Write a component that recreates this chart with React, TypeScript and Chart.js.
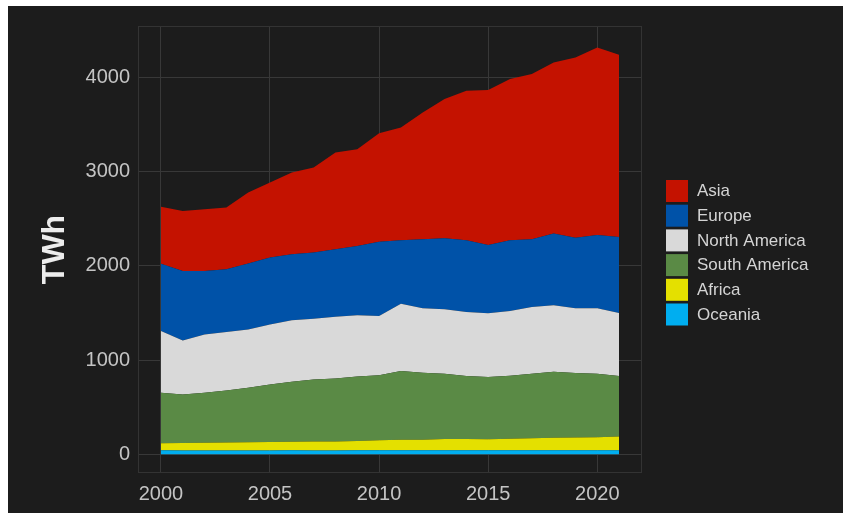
import React, { useEffect, useRef } from "react";
import { Chart, registerables } from "chart.js";

Chart.register(...registerables);

const years = [2000, 2001, 2002, 2003, 2004, 2005, 2006, 2007, 2008, 2009, 2010, 2011, 2012, 2013, 2014, 2015, 2016, 2017, 2018, 2019, 2020, 2021];

const oceania = [41, 40, 40, 40, 40, 40, 41, 40, 40, 41, 41, 42, 42, 42, 42, 41, 43, 41, 42, 42, 41, 42];
const africa = [76, 80, 82, 84, 88, 90, 92, 94, 95, 98, 106, 110, 112, 118, 120, 118, 120, 128, 132, 136, 140, 145];
const southAmerica = [535, 515, 530, 553, 578, 611, 636, 660, 670, 687, 693, 731, 711, 695, 668, 660, 670, 686, 702, 684, 674, 643];
const northAmerica = [657, 574, 621, 621, 620, 638, 653, 646, 656, 649, 628, 716, 685, 684, 681, 678, 688, 709, 706, 688, 695, 670];
const europe = [716, 738, 674, 667, 699, 710, 702, 702, 716, 738, 789, 674, 734, 755, 762, 726, 752, 720, 762, 751, 780, 809];
const asia = [605, 638, 656, 656, 755, 797, 869, 904, 1028, 1028, 1153, 1198, 1347, 1479, 1589, 1646, 1713, 1755, 1819, 1915, 1992, 1936];

const seriesLabels = ["Oceania", "Africa", "South America", "North America", "Europe", "Asia"];
const seriesValues = [oceania, africa, southAmerica, northAmerica, europe, asia];
const seriesColors = ["#00aef0", "#e4e000", "#5a8a45", "#d9d9d9", "#0052a8", "#c41200"];

const xTicks = [2000, 2005, 2010, 2015, 2020];
const yTicks = [0, 1000, 2000, 3000, 4000];

const FONT = '"Liberation Sans", Arial, Helvetica, sans-serif';

const legendPlugin = {
  id: "customLegend",
  afterDraw(chart: any) {
    const ctx = chart.ctx;
    const area = chart.chartArea;
    const items = chart.data.datasets.slice().reverse();
    const boxX = area.right + 24;
    const startY = 174;
    const step = 24.7;
    ctx.save();
    items.forEach((d: any, i: number) => {
      const y = startY + i * step;
      ctx.fillStyle = d.backgroundColor;
      ctx.fillRect(boxX, y, 22, 22);
      ctx.fillStyle = "#d4d4d4";
      ctx.font = `17px ${FONT}`;
      ctx.textBaseline = "middle";
      ctx.textAlign = "left";
      ctx.fillText(d.label, boxX + 31, y + 11.5);
    });
    ctx.restore();
  },
};

const borderPlugin = {
  id: "panelBorder",
  beforeDatasetsDraw(chart: any) {
    const { ctx, chartArea: a } = chart;
    ctx.save();
    ctx.strokeStyle = "#333333";
    ctx.lineWidth = 1;
    ctx.strokeRect(a.left + 0.5, a.top + 0.5, a.right - a.left - 1, a.bottom - a.top - 1);
    ctx.restore();
  },
};

export default function App() {
  const canvasRef = useRef<HTMLCanvasElement | null>(null);

  useEffect(() => {
    if (!canvasRef.current) return;
    const datasets = seriesLabels.map((label, i) => ({
      label,
      data: years.map((x, j) => ({ x, y: seriesValues[i][j] })),
      backgroundColor: seriesColors[i],
      borderColor: seriesColors[i],
      borderWidth: 0,
      pointRadius: 0,
      pointHoverRadius: 0,
      fill: i === 0 ? "origin" : "-1",
      tension: 0,
    }));

    const chart = new Chart(canvasRef.current, {
      type: "line",
      data: { datasets } as any,
      options: {
        responsive: true,
        maintainAspectRatio: false,
        animation: false,
        layout: { padding: { left: 0, top: 19, right: 201, bottom: 0 } },
        plugins: {
          legend: { display: false },
          tooltip: { enabled: false },
        },
        scales: {
          x: {
            type: "linear",
            min: 1998.95,
            max: 2022.05,
            afterBuildTicks: (s: any) => {
              s.ticks = xTicks.map((v) => ({ value: v }));
            },
            afterFit: (s: any) => {
              s.height = 40;
            },
            ticks: {
              color: "#c4c4c4",
              font: { family: FONT, size: 20 },
              padding: 9,
              maxRotation: 0,
              autoSkip: false,
              callback: (v: any) => String(v),
            },
            grid: { color: "#383838", lineWidth: 1, drawTicks: false },
            border: { display: false },
          },
          y: {
            type: "linear",
            stacked: true,
            min: -200,
            max: 4550,
            afterBuildTicks: (s: any) => {
              s.ticks = yTicks.map((v) => ({ value: v }));
            },
            afterFit: (s: any) => {
              s.width = 130;
            },
            ticks: {
              color: "#c4c4c4",
              font: { family: FONT, size: 20 },
              padding: 8,
              autoSkip: false,
              callback: (v: any) => String(v),
            },
            grid: { color: "#383838", lineWidth: 1, drawTicks: false },
            border: { display: false },
            title: {
              display: true,
              text: "TWh",
              color: "#ececec",
              font: { family: FONT, size: 32, weight: "bold" },
              padding: { top: 28, bottom: 0 },
            },
          },
        },
      } as any,
      plugins: [borderPlugin, legendPlugin],
    });
    return () => chart.destroy();
  }, []);

  return (
    <div
      style={{
        position: "absolute",
        left: 8,
        top: 6,
        width: 835,
        height: 507,
        background: "#1c1c1c",
      }}
    >
      <canvas ref={canvasRef} />
    </div>
  );
}
